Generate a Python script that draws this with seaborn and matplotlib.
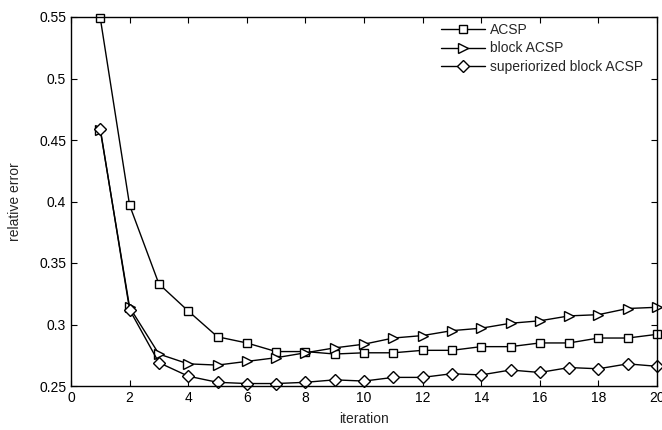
import numpy as np
import pandas as pd
import matplotlib
matplotlib.use("Agg")
import matplotlib.pyplot as plt
import seaborn as sns

iterations = list(range(1, 21))
acsp = [0.549, 0.397, 0.333, 0.311, 0.290, 0.285, 0.278, 0.278, 0.276, 0.277,
        0.277, 0.279, 0.279, 0.282, 0.282, 0.285, 0.285, 0.289, 0.289, 0.292]
block_acsp = [0.458, 0.314, 0.276, 0.268, 0.267, 0.270, 0.273, 0.277, 0.281, 0.284,
              0.289, 0.291, 0.295, 0.297, 0.301, 0.303, 0.307, 0.308, 0.313, 0.314]
sup_block_acsp = [0.459, 0.312, 0.269, 0.258, 0.253, 0.252, 0.252, 0.253, 0.255, 0.254,
                  0.257, 0.257, 0.260, 0.259, 0.263, 0.261, 0.265, 0.264, 0.268, 0.266]

sns.set_style("ticks")
plt.rcParams['font.family'] = ['Liberation Sans', 'DejaVu Sans']
plt.rcParams['xtick.direction'] = 'in'
plt.rcParams['ytick.direction'] = 'in'

fig = plt.figure(figsize=(6.62, 4.30), dpi=100)
ax = fig.add_axes([71/662, 1 - 386/430, (657-71)/662, (386-17)/430])

series = [("ACSP", acsp, "s", 6),
          ("block ACSP", block_acsp, ">", 7.5),
          ("superiorized block ACSP", sup_block_acsp, "D", 6)]
for name, vals, mk, ms in series:
    sns.lineplot(x=iterations, y=vals, ax=ax, color="black", lw=1, marker=mk,
                 markersize=ms, markerfacecolor="white", markeredgecolor="black",
                 markeredgewidth=1, label=name, clip_on=False)

ax.set_xlim(0, 20)
ax.set_ylim(0.25, 0.55)
ax.set_xticks(np.arange(0, 21, 2))
ax.set_yticks([0.25, 0.3, 0.35, 0.4, 0.45, 0.5, 0.55])
ax.set_yticklabels(["0.25", "0.3", "0.35", "0.4", "0.45", "0.5", "0.55"])
ax.tick_params(top=True, right=True, labelsize=10, length=4, width=0.8, colors="black")
for s in ax.spines.values():
    s.set_visible(True)
    s.set_linewidth(1)
    s.set_color("black")
ax.set_xlabel("iteration", fontsize=10, labelpad=5)
ax.set_ylabel("relative error", fontsize=10, labelpad=12)

leg = ax.legend(loc="upper right", bbox_to_anchor=(0.985, 1.0), frameon=False,
                fontsize=10, handlelength=3.2, handletextpad=0.3,
                labelspacing=0.35, borderaxespad=0.0)

fig.savefig("out.png", dpi=100)
